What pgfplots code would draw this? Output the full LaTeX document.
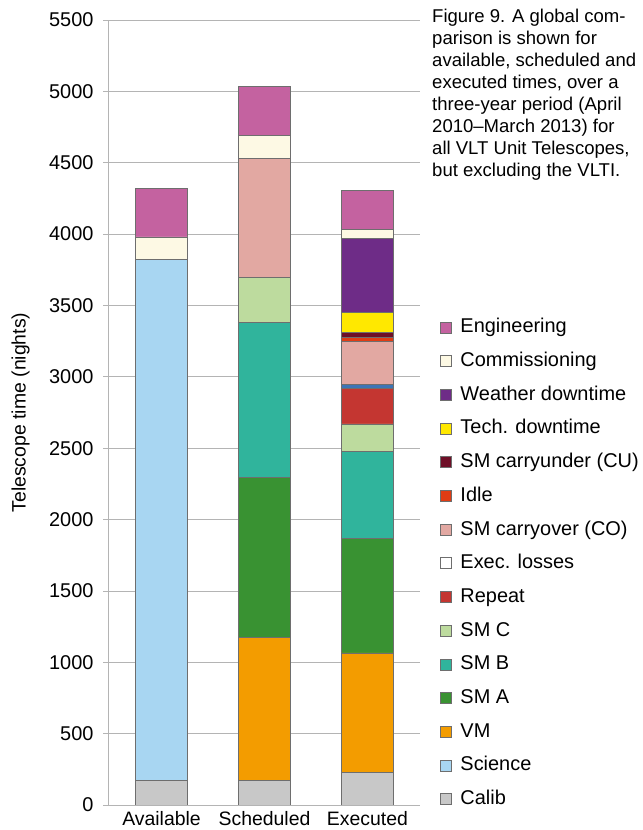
\documentclass[border=0pt]{standalone}
\usepackage{pgfplots}
\pgfplotsset{compat=1.18}
\usepackage{fontspec}
\setmainfont{Liberation Sans}

\definecolor{eng}{HTML}{C462A0}
\definecolor{comm}{HTML}{FDF9E4}
\definecolor{weather}{HTML}{6E2C87}
\definecolor{tech}{HTML}{FFE800}
\definecolor{cu}{HTML}{6E0F27}
\definecolor{idle}{HTML}{E03C14}
\definecolor{co}{HTML}{E2A8A2}
\definecolor{exloss}{HTML}{3C75B6}
\definecolor{repeat}{HTML}{C43631}
\definecolor{smc}{HTML}{BDDB9E}
\definecolor{smb}{HTML}{30B49C}
\definecolor{sma}{HTML}{399232}
\definecolor{vm}{HTML}{F39C00}
\definecolor{science}{HTML}{A8D6F2}
\definecolor{calib}{HTML}{C8C8C8}
\definecolor{barline}{HTML}{6E6E6E}
\definecolor{gridgray}{HTML}{B4B4B4}

\begin{document}
\begin{tikzpicture}[x=1bp,y=1bp]
\path[use as bounding box] (0,0) rectangle (643,830);
\begin{axis}[
  at={(108bp,25bp)}, anchor=south west,
  ybar stacked, bar width=52bp,
  scale only axis, width=312bp, height=785bp,
  xmin=-0.52, xmax=2.51, ymin=0, ymax=5500,
  ytick={0,500,...,5500},
  xtick={0,1,2}, xticklabels={Available,Scheduled,Executed},
  axis lines*=left,
  axis line style={draw=gridgray, line width=0.8bp},
  ymajorgrids, grid style={draw=gridgray, line width=0.8bp},
  tick align=outside, major tick length=5bp,
  major y tick style={draw=gridgray, line width=0.8bp},
  major x tick style={draw=none},
  /pgf/number format/assume math mode=true,
  /pgf/number format/1000 sep={},
  tick label style={font=\fontsize{20}{24}\selectfont},
  yticklabel style={xshift=-6bp},
  xticklabel style={yshift=2bp, font=\fontsize{19.5}{23}\selectfont},
  ylabel={Telescope time (nights)},
  ylabel style={font=\fontsize{19.5}{23}\selectfont, at={(axis description cs:-0.28,0.5)}, anchor=center},
  every axis plot/.append style={draw=barline, line width=0.8bp},
  legend image code/.code={\draw[#1,draw=barline,line width=0.6bp] (0bp,-5bp) rectangle (11bp,6bp);},
  reverse legend,
  legend cell align=left,
  legend style={at={(axis description cs:1.0535,-0.010)}, anchor=south west,
    draw=none, fill=none, row sep=11.7bp,
    /tikz/every odd column/.style={column sep=7bp},
    font=\fontsize{20}{24}\selectfont,
    nodes={inner sep=2bp, text height=14bp, text depth=4bp}},
]
\addplot[fill=calib]   coordinates {(0,170) (1,170) (2,230)};
\addplot[fill=science] coordinates {(0,3650) (1,0) (2,0)};
\addplot[fill=vm]      coordinates {(0,0) (1,1005) (2,835)};
\addplot[fill=sma]     coordinates {(0,0) (1,1120) (2,800)};
\addplot[fill=smb]     coordinates {(0,0) (1,1085) (2,615)};
\addplot[fill=smc]     coordinates {(0,0) (1,315) (2,190)};
\addplot[fill=repeat]  coordinates {(0,0) (1,0) (2,250)};
\addplot[fill=exloss, legend image code/.code={\draw[draw=barline,fill=white,line width=0.6bp] (0bp,-5bp) rectangle (11bp,6bp);}]
                       coordinates {(0,0) (1,0) (2,30)};
\addplot[fill=co]      coordinates {(0,0) (1,835) (2,300)};
\addplot[fill=idle]    coordinates {(0,0) (1,0) (2,28)};
\addplot[fill=cu]      coordinates {(0,0) (1,0) (2,30)};
\addplot[fill=tech]    coordinates {(0,0) (1,0) (2,140)};
\addplot[fill=weather] coordinates {(0,0) (1,0) (2,525)};
\addplot[fill=comm]    coordinates {(0,160) (1,160) (2,60)};
\addplot[fill=eng]     coordinates {(0,340) (1,345) (2,275)};
\legend{Calib,Science,VM,SM A,SM B,SM C,Repeat,Exec. losses,SM carryover (CO),Idle,SM carryunder (CU),Tech. downtime,Weather downtime,Commissioning,Engineering}
\end{axis}
\node[anchor=north west, align=left, inner sep=0pt,
  font=\fontsize{18.6}{22}\selectfont] at (432,821)
  {Figure 9. A global com-\\parison is shown for\\available, scheduled and\\executed times, over a\\three-year period (April\\2010--March 2013) for\\all VLT Unit Telescopes,\\but excluding the VLTI.};
\end{tikzpicture}
\end{document}
